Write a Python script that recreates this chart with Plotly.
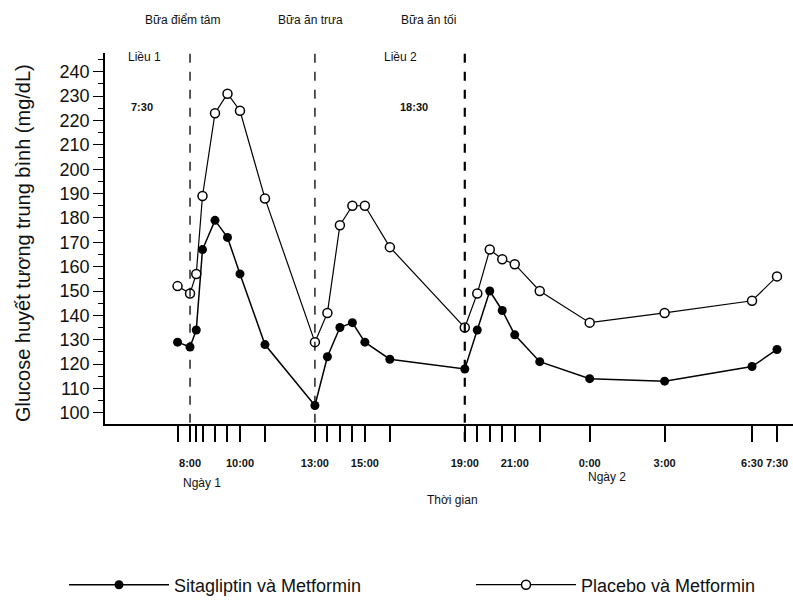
import plotly.graph_objects as go

# Time points (hours from midnight of day 1)
hours = [7.5, 8.0, 8.25, 8.5, 9.0, 9.5, 10.0, 11.0, 13.0, 13.5, 14.0, 14.5, 15.0, 16.0,
         19.0, 19.5, 20.0, 20.5, 21.0, 22.0, 24.0, 27.0, 30.5, 31.5]

sitagliptin = [129, 127, 134, 167, 179, 172, 157, 128, 103, 123, 135, 137, 129, 122,
               118, 134, 150, 142, 132, 121, 114, 113, 119, 126]

placebo = [152, 149, 157, 189, 223, 231, 224, 188, 129, 141, 177, 185, 185, 168,
           135, 149, 167, 163, 161, 150, 137, 141, 146, 156]

tick_hours = hours
tick_labels = ["", "8:00", "", "", "", "", "10:00", "", "13:00", "", "", "", "15:00", "",
               "19:00", "", "", "", "21:00", "", "0:00", "3:00", "6:30", "7:30"]

meal_hours = [8.0, 13.0, 19.0]
meal_names = ["Bữa điểm tâm", "Bữa ăn trưa", "Bữa ăn tối"]

FONT = "Liberation Sans, Arial, sans-serif"

fig = go.Figure()
fig.add_trace(go.Scatter(
    x=hours, y=sitagliptin, mode="lines+markers", name="Sitagliptin và Metformin",
    line=dict(color="black", width=1.5),
    marker=dict(symbol="circle", size=9, color="black"),
    legend="legend",
))
fig.add_trace(go.Scatter(
    x=hours, y=placebo, mode="lines+markers", name="Placebo và Metformin",
    line=dict(color="black", width=1.2),
    marker=dict(symbol="circle", size=9, color="white", line=dict(color="black", width=1.5)),
    legend="legend2",
))

# dashed meal / dose lines
for i, h in enumerate(meal_hours):
    fig.add_shape(type="line", xref="x", yref="paper", x0=h, x1=h, y0=-0.045, y1=1.0,
                  line=dict(color="black", width=2.2 if i == 2 else 1.3, dash="dash"))


def note(x, y, text, size=12, xref="x", **kw):
    d = dict(x=x, y=y, xref=xref, yref="paper", text=text, showarrow=False,
             xanchor="center", yanchor="middle",
             font=dict(size=size, family=FONT, color="#111"))
    d.update(kw)
    return d


ann = []
meal_label_x = [7.68, 12.84, 17.53]
for hx, name in zip(meal_label_x, meal_names):
    ann.append(note(hx, 1.089, name))
ann += [
    note(6.16, 0.989, "Liều 1"),
    note(6.06, 0.854, "<b>7:30</b>", size=11),
    note(16.41, 0.989, "Liều 2"),
    note(16.95, 0.854, "<b>18:30</b>", size=11),
    note(7.65, -0.159, "Ngày 1", xanchor="left"),
    note(24.7, -0.143, "Ngày 2"),
    note(18.5, -0.205, "Thời gian"),
    note(-0.119, 0.488, "Glucose huyết tương trung bình (mg/dL)", size=20,
         xref="paper", textangle=-90),
]

legend_style = dict(orientation="h", xanchor="left", y=-0.434, yanchor="middle",
                    font=dict(size=18, family=FONT, color="#111"), itemwidth=100,
                    bgcolor="rgba(0,0,0,0)")

fig.update_layout(
    width=793, height=602,
    margin=dict(l=105, r=0, t=53, b=178, autoexpand=False),
    paper_bgcolor="white", plot_bgcolor="white",
    showlegend=True,
    legend=dict(x=-0.0596, **legend_style),
    legend2=dict(x=0.532, **legend_style),
    annotations=ann,
    xaxis=dict(range=[4.596, 32.14], showgrid=False, zeroline=False, automargin=False,
               showline=True, linecolor="black", linewidth=1.5,
               tickmode="array", tickvals=tick_hours, ticktext=tick_labels,
               ticks="outside", ticklen=16, tickwidth=1.5, tickcolor="black",
               ticklabelstandoff=12,
               tickfont=dict(size=11, family=FONT, color="#111", weight="bold")),
    yaxis=dict(range=[95.4, 247.7], showgrid=False, zeroline=False, automargin=False,
               showline=True, linecolor="black", linewidth=1.5,
               tick0=100, dtick=10, ticks="outside", ticklen=10, tickwidth=1.3,
               tickcolor="black",
               minor=dict(dtick=5, ticklen=5, tickwidth=1, tickcolor="black", ticks="outside"),
               tickfont=dict(size=18, family=FONT, color="#111")),
)

fig.write_html(
    "out.html",
    config={"displayModeBar": False},
    post_script="document.documentElement.style.margin='0';document.body.style.margin='0';"
                "document.body.style.padding='0';document.body.style.overflow='hidden';",
)
